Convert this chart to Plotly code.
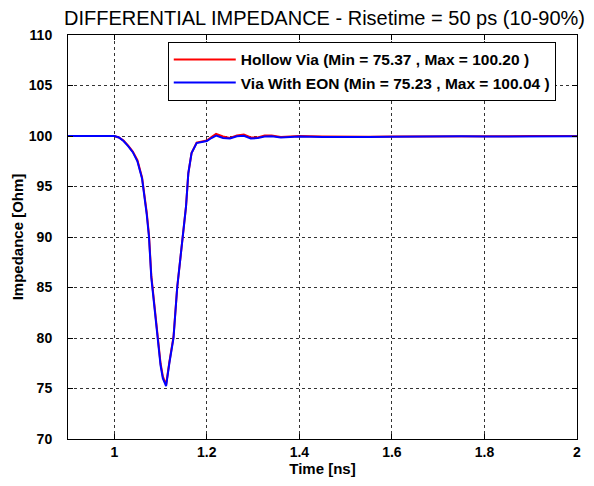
import plotly.graph_objects as go

# Time axis [ns]
time_ns = [0.90, 0.95, 1.00, 1.01, 1.02, 1.03, 1.04, 1.05, 1.06, 1.07, 1.075, 1.08,
           1.09, 1.10, 1.105, 1.112, 1.119, 1.128, 1.136, 1.148, 1.155, 1.16, 1.167,
           1.178, 1.19, 1.20, 1.21, 1.22, 1.235, 1.25, 1.265, 1.28, 1.295, 1.31,
           1.325, 1.34, 1.36, 1.38, 1.40, 1.45, 1.50, 1.55, 1.60, 1.65, 1.70, 1.75,
           1.80, 1.85, 1.90, 1.95, 2.00]

# Hollow Via impedance [Ohm]
hollow_via = [100.0, 100.0, 100.0, 99.85, 99.55, 99.05, 98.45, 97.6, 95.9, 92.5, 90.2, 86.2,
              81.5, 77.5, 76.2, 75.37, 77.6, 80.1, 85.0, 90.0, 93.0, 96.3, 98.3,
              99.35, 99.45, 99.55, 99.9, 100.20, 99.95, 99.8, 100.05, 100.15, 99.85, 99.85,
              100.05, 100.05, 99.9, 99.95, 100.0, 99.95, 99.92, 99.93, 99.95, 99.97, 99.97, 99.98,
              99.97, 99.98, 99.99, 99.99, 99.99]

# Via With EON impedance [Ohm]
via_with_eon = [100.0, 100.0, 100.0, 99.85, 99.5, 99.0, 98.4, 97.5, 95.8, 92.3, 90.0, 86.0,
                81.3, 77.3, 76.0, 75.23, 77.5, 80.0, 85.0, 90.0, 93.0, 96.3, 98.3,
                99.3, 99.4, 99.5, 99.8, 100.04, 99.8, 99.75, 99.98, 100.02, 99.75, 99.8,
                99.95, 99.97, 99.85, 99.9, 99.95, 99.9, 99.88, 99.9, 99.92, 99.95, 99.95, 99.97,
                99.95, 99.97, 99.98, 99.98, 99.98]

x_ticks = [1, 1.2, 1.4, 1.6, 1.8, 2]
x_tick_labels = ["1", "1.2", "1.4", "1.6", "1.8", "2"]
y_ticks = [70, 75, 80, 85, 90, 95, 100, 105, 110]

FONT = "Liberation Sans, Arial, sans-serif"

fig = go.Figure()
fig.add_trace(go.Scatter(
    x=time_ns, y=hollow_via, mode="lines",
    name="Hollow Via (Min = 75.37 , Max = 100.20 )",
    line=dict(color="#ff0000", width=2),
))
fig.add_trace(go.Scatter(
    x=time_ns, y=via_with_eon, mode="lines",
    name="Via With EON (Min = 75.23 , Max = 100.04 )",
    line=dict(color="#0000ff", width=2),
))

axis_common = dict(
    showline=True, linecolor="black", linewidth=1, mirror="ticks",
    ticks="inside", ticklen=5, tickcolor="black",
    showgrid=True, gridcolor="#333333", gridwidth=1, griddash="3px,3px",
    zeroline=False,
    tickfont=dict(family=FONT, size=14, color="black", weight="bold"),
)

# page has an 8px body margin; figure sized to fit without scrollbars
W, H = 578, 470
L, R, T, B = 60, 5, 27, 39

fig.update_layout(
    width=W, height=H,
    margin=dict(l=L, r=R, t=T, b=B),
    paper_bgcolor="white", plot_bgcolor="white",
    title=dict(
        text="DIFFERENTIAL IMPEDANCE - Risetime = 50 ps (10-90%)",
        x=(L + W - R) / 2 / W, xanchor="center",
        y=1 - 10 / H, yanchor="middle",
        font=dict(family=FONT, size=20, color="black"),
    ),
    xaxis=dict(
        range=[0.9, 2], tickvals=x_ticks, ticktext=x_tick_labels,
        title=dict(text="Time [ns]", standoff=2,
                   font=dict(family=FONT, size=15, color="black", weight="bold")),
        **axis_common,
    ),
    yaxis=dict(
        range=[70, 110], tickvals=y_ticks, ticklabelstandoff=12,
        title=dict(text="Impedance [Ohm]", standoff=1,
                   font=dict(family=FONT, size=15, color="black", weight="bold")),
        **axis_common,
    ),
    legend=dict(
        x=0.196, y=0.983, xanchor="left", yanchor="top",
        bgcolor="white", bordercolor="black", borderwidth=1,
        font=dict(family=FONT, size=15.5, color="black", weight="bold"),
        tracegroupgap=0, itemwidth=62,
    ),
    showlegend=True,
)

fig.write_html("out.html")
